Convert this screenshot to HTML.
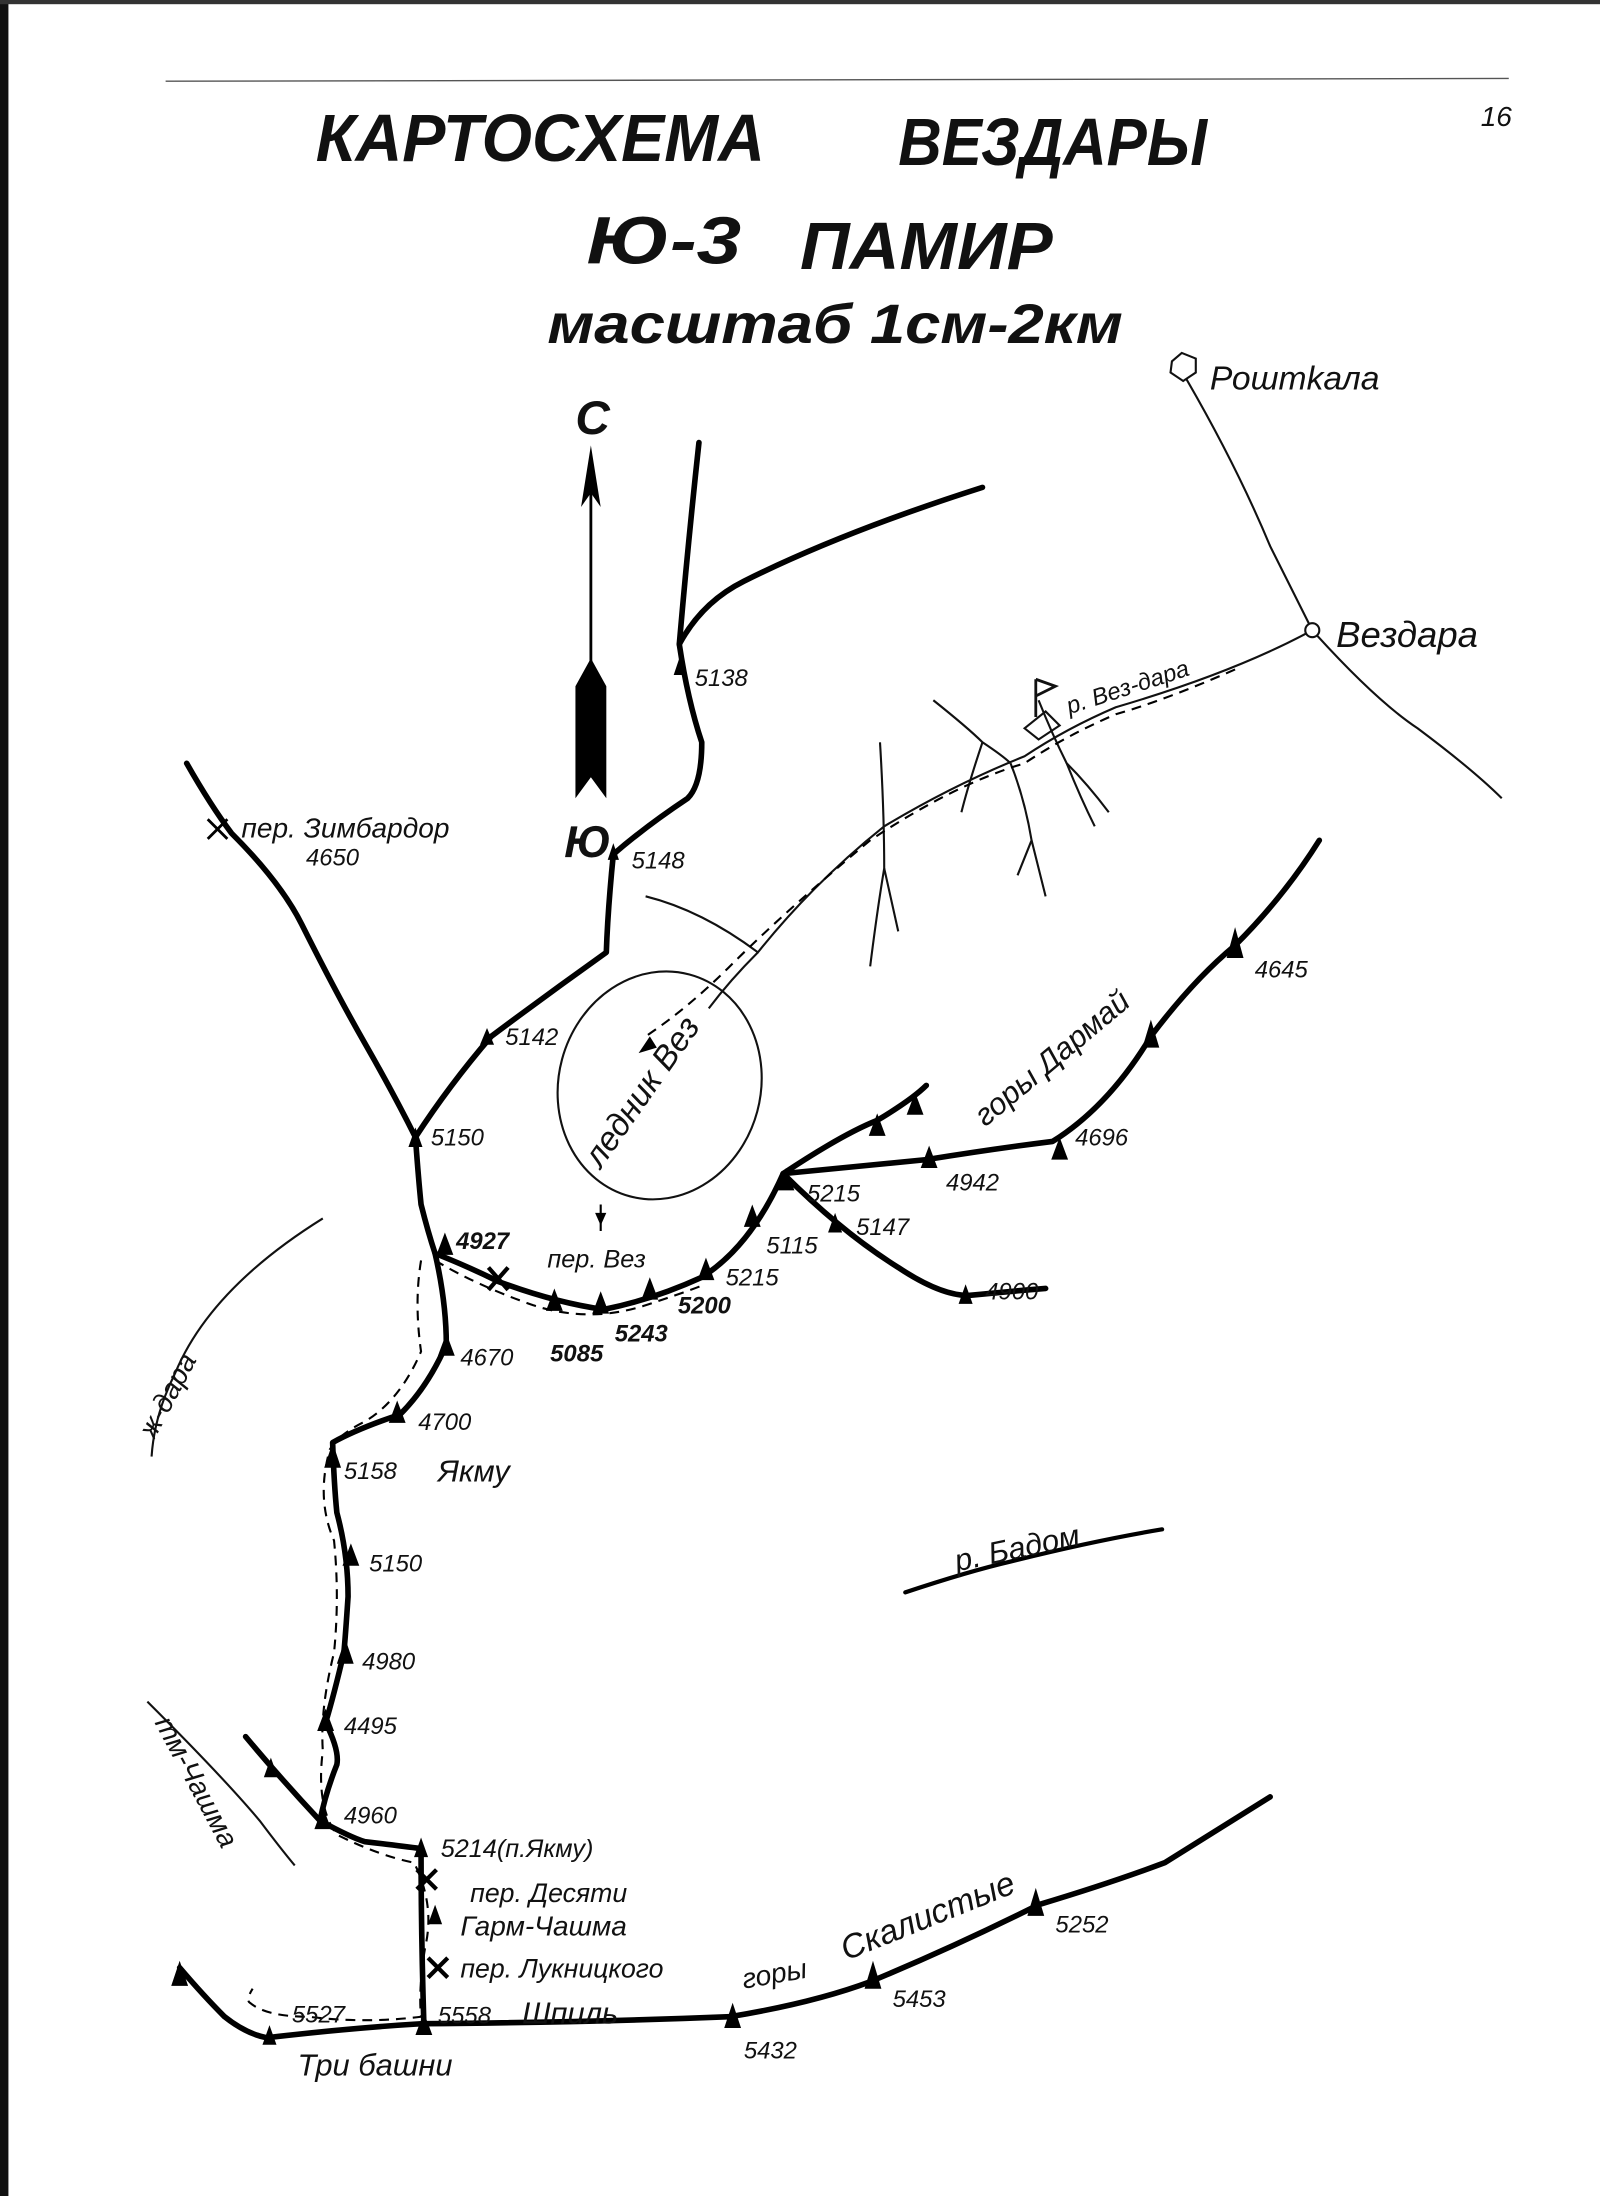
<!DOCTYPE html>
<html><head><meta charset="utf-8"><style>
html,body{margin:0;padding:0;background:#fff}
svg{display:block}
text{font-family:"Liberation Sans",sans-serif;font-style:italic;fill:#111}
</style></head><body>
<svg width="1600" height="2196" viewBox="0 0 1140 1568" preserveAspectRatio="none" xmlns="http://www.w3.org/2000/svg">
<rect width="1140" height="1568" fill="#fff"/>
<rect x="0" y="0" width="6" height="1568" fill="#111"/>
<rect x="0" y="0" width="1140" height="3" fill="#333"/>
<line x1="118" y1="58" x2="1075" y2="56" stroke="#555" stroke-width="1"/>
<text x="1055" y="90" font-size="20">16</text>
<g font-size="48" font-weight="bold" fill="#000">
<text x="225" y="115" textLength="320" lengthAdjust="spacingAndGlyphs">КАРТОСХЕМА</text>
<text x="640" y="118" textLength="220" lengthAdjust="spacingAndGlyphs">ВЕЗДАРЫ</text>
<text x="418" y="188" textLength="110" lengthAdjust="spacingAndGlyphs">Ю-3</text>
<text x="570" y="192" textLength="180" lengthAdjust="spacingAndGlyphs">ПАМИР</text>
<text x="390" y="245" font-size="40" textLength="410" lengthAdjust="spacingAndGlyphs">масштаб 1см-2км</text>
</g>
<!-- north arrow -->
<text x="410" y="310" font-size="34" font-weight="bold" font-style="normal" font-family="Liberation Serif">С</text>
<line x1="421" y1="330" x2="421" y2="480" stroke="#000" stroke-width="2"/>
<path d="M421 318 L414 362 L421 352 L428 362 Z" fill="#000"/>
<path d="M421 470 L432 490 L432 570 L421 555 L410 570 L410 490 Z" fill="#000"/>
<text x="402" y="612" font-size="32" font-weight="bold" font-style="normal" font-family="Liberation Serif">Ю</text>
<!-- thin lines -->
<g fill="none" stroke="#111" stroke-width="1.5">
<path d="M842 265 Q880 330 905 390 Q920 420 935 450"/>
<path d="M935 450 Q980 500 1010 520 Q1050 550 1070 570"/>
<path d="M935 450 Q880 480 795 505 Q760 520 730 540 Q680 560 630 590 Q580 630 540 680 Q500 650 460 640"/>
<path d="M540 680 Q520 700 505 720"/>
<ellipse cx="470" cy="775" rx="72" ry="82" transform="rotate(15 470 775)"/>
<path d="M665 500 Q690 520 700 530 Q715 540 720 545"/><path d="M700 530 Q690 560 685 580"/>
<path d="M720 545 Q730 570 735 600 Q740 620 745 640"/><path d="M735 600 L725 625"/>
<path d="M627 530 Q630 580 630 620 Q625 650 620 690"/><path d="M630 620 L640 665"/>
<path d="M740 500 Q750 525 760 545 Q775 560 790 580"/>
<path d="M760 545 Q770 570 780 590"/>
<path d="M230 870 Q150 920 125 980 Q110 1010 108 1040"/>
<path d="M105 1215 Q160 1270 185 1300 Q200 1320 210 1332"/>
</g>
<!-- villages -->
<polygon points="835,258 842,252 852,256 852,266 843,272 834,266" fill="#fff" stroke="#111" stroke-width="1.5"/>
<circle cx="935" cy="450" r="5" fill="#fff" stroke="#111" stroke-width="1.5"/>
<path d="M738 485 L738 512 M738 485 L752 490 L738 497" fill="none" stroke="#111" stroke-width="2"/>
<path d="M730 520 L745 508 L755 518 L740 528 Z" fill="none" stroke="#111" stroke-width="1.5"/>
<!-- thick ridges -->
<g fill="none" stroke="#000" stroke-width="4" stroke-linejoin="round" stroke-linecap="round">
<path d="M498 316 Q490 390 484 460 Q490 500 500 530 Q500 560 490 570 Q460 590 437 610 Q433 650 432 680 Q390 710 350 740 Q320 775 296 812 Q298 840 300 860 Q305 880 310 895 Q335 905 355 915 Q395 930 430 935 Q465 928 500 912 Q535 890 558 838"/>
<path d="M484 460 Q500 430 530 415 Q600 380 700 348"/>
<path d="M133 545 Q150 575 165 595 Q200 630 215 660 Q240 710 260 745 Q280 780 296 812"/>
<path d="M558 838 Q600 810 625 800 Q650 785 660 775"/>
<path d="M558 838 Q620 832 660 828 Q710 820 750 815 Q790 790 820 740 Q850 700 880 675 Q915 640 940 600"/>
<path d="M558 838 Q600 880 640 905 Q670 925 690 925 Q720 922 745 920"/>
<path d="M310 895 Q318 930 318 960 Q305 990 285 1010 Q255 1020 237 1030 Q238 1060 240 1080 Q248 1110 248 1140 Q246 1170 245 1180 Q238 1210 232 1230 Q242 1250 240 1260 Q232 1280 228 1300 Q250 1312 260 1315 Q285 1318 300 1320 Q300 1380 302 1445"/>
<path d="M175 1240 Q200 1270 228 1300"/>
<path d="M128 1405 Q145 1425 160 1440 Q175 1452 190 1455 Q250 1448 300 1445 Q420 1444 520 1440 Q580 1430 620 1415 Q680 1390 740 1360 Q790 1345 830 1330 Q870 1305 905 1283"/>
<path d="M645 1137 Q690 1122 720 1115 Q780 1100 828 1092" stroke-width="3"/>
</g>
<!-- dashed route -->
<g fill="none" stroke="#000" stroke-width="1.5" stroke-dasharray="7,5">
<path d="M880 478 Q830 500 795 510 Q760 525 730 545 Q680 560 620 600 Q560 650 520 690 Q490 720 460 740"/>
<path d="M428 860 L428 880"/>
<path d="M310 900 Q340 918 380 932 Q420 945 460 932 Q490 922 500 918"/>
<path d="M300 900 Q295 930 300 965 Q285 1000 260 1015 Q240 1025 235 1035 Q225 1070 238 1100 Q242 1140 238 1180 Q228 1220 230 1250 Q225 1290 240 1310 Q270 1325 295 1330 Q310 1360 303 1390 Q298 1420 300 1440 Q260 1445 220 1440 Q190 1440 178 1430 Q175 1428 180 1420"/>
</g>
<path d="M463 740 L455 752 L468 748 Z" fill="#000"/>
<path d="M428 875 L424 866 L432 866 Z" fill="#000"/>
<!-- peaks -->
<g fill="#000">
<path d="M484 470 l-4 12 h8z"/><path d="M437 602 l-4 12 h8z"/><path d="M347 734 l-5 12 h10z"/>
<path d="M296 805 l-5 14 h10z"/><path d="M317 880 l-6 16 h12z"/><path d="M395 920 l-6 16 h12z"/>
<path d="M428 922 l-6 16 h12z"/><path d="M463 912 l-6 16 h12z"/><path d="M503 898 l-6 16 h12z"/>
<path d="M536 860 l-6 16 h12z"/><path d="M560 834 l-6 16 h12z"/><path d="M595 866 l-5 14 h10z"/>
<path d="M688 917 l-5 14 h10z"/><path d="M625 795 l-6 16 h12z"/><path d="M652 780 l-6 16 h12z"/>
<path d="M662 818 l-6 16 h12z"/><path d="M755 812 l-6 16 h12z"/><path d="M820 728 l-6 20 h12z"/>
<path d="M880 662 l-6 22 h12z"/><path d="M318 952 l-6 16 h12z"/><path d="M283 1000 l-6 16 h12z"/>
<path d="M237 1030 l-6 18 h12z"/><path d="M250 1102 l-6 16 h12z"/><path d="M246 1170 l-6 18 h12z"/>
<path d="M232 1220 l-6 16 h12z"/><path d="M230 1290 l-6 16 h12z"/><path d="M300 1312 l-5 14 h10z"/>
<path d="M310 1360 l-5 14 h10z"/><path d="M302 1437 l-6 16 h12z"/><path d="M192 1446 l-5 14 h10z"/>
<path d="M128 1400 l-6 18 h12z"/><path d="M522 1430 l-6 18 h12z"/><path d="M622 1400 l-6 20 h12z"/>
<path d="M738 1348 l-6 20 h12z"/><path d="M193 1255 l-5 14 h10z"/>
</g>
<g stroke="#000" stroke-width="3">
<path d="M148 585 l14 14 M162 585 l-14 14" stroke-width="2"/>
<path d="M348 905 l14 16 M362 905 l-14 16"/>
<path d="M297 1335 l14 14 M311 1335 l-14 14"/>
<path d="M305 1398 l14 14 M319 1398 l-14 14"/>
</g>
<!-- labels -->
<g font-size="17">
<text x="862" y="278" font-size="24">Роштkала</text>
<text x="952" y="462" font-size="26">Вездара</text>
<text x="762" y="510" font-size="17" transform="rotate(-18 762 510)">р. Вез-дара</text>
<text x="172" y="598" font-size="20">пер. Зимбардор</text>
<text x="218" y="618">4650</text>
<text x="495" y="490">5138</text><text x="450" y="620">5148</text><text x="360" y="746">5142</text>
<text x="307" y="818">5150</text>
<text x="428" y="835" font-size="24" transform="rotate(-55 428 835)">ледник Вез</text>
<text x="325" y="892" font-weight="bold">4927</text>
<text x="390" y="905" font-size="18">пер. Вез</text>
<text x="392" y="972" font-weight="bold">5085</text><text x="438" y="958" font-weight="bold">5243</text>
<text x="483" y="938" font-weight="bold">5200</text><text x="517" y="918">5215</text>
<text x="546" y="895">5115</text><text x="575" y="858">5215</text><text x="610" y="882">5147</text>
<text x="702" y="928">4900</text><text x="674" y="850">4942</text><text x="766" y="818">4696</text>
<text x="894" y="698">4645</text>
<text x="702" y="805" font-size="22" transform="rotate(-40 702 805)">горы  Дармай</text>
<text x="328" y="975">4670</text><text x="298" y="1021">4700</text>
<text x="245" y="1056">5158</text><text x="312" y="1058" font-size="22">Якму</text>
<text x="263" y="1122">5150</text><text x="258" y="1192">4980</text><text x="245" y="1238">4495</text>
<text x="245" y="1302">4960</text>
<text x="314" y="1326" font-size="18">5214(п.Якму)</text>
<text x="335" y="1358" font-size="19">пер. Десяти</text>
<text x="328" y="1382" font-size="20">Гарм-Чашма</text>
<text x="328" y="1412" font-size="19">пер. Лукницкого</text>
<text x="312" y="1445">5558</text><text x="372" y="1445" font-size="22">Шпиль</text>
<text x="208" y="1444">5527</text>
<text x="212" y="1482" font-size="22">Три башни</text>
<text x="530" y="1470">5432</text><text x="636" y="1433">5453</text><text x="752" y="1380">5252</text>
<text x="530" y="1420" font-size="20" transform="rotate(-10 530 1420)">горы</text>
<text x="603" y="1400" font-size="24" transform="rotate(-22 603 1400)">Скалистые</text>
<text x="682" y="1122" font-size="22" transform="rotate(-12 682 1122)">р. Бадом</text>
<text x="110" y="1028" font-size="20" transform="rotate(-62 110 1028)">ж-дара</text>
<text x="110" y="1230" font-size="20" transform="rotate(62 110 1230)">тм-Чашма</text>
</g>
</svg>
</body></html>
